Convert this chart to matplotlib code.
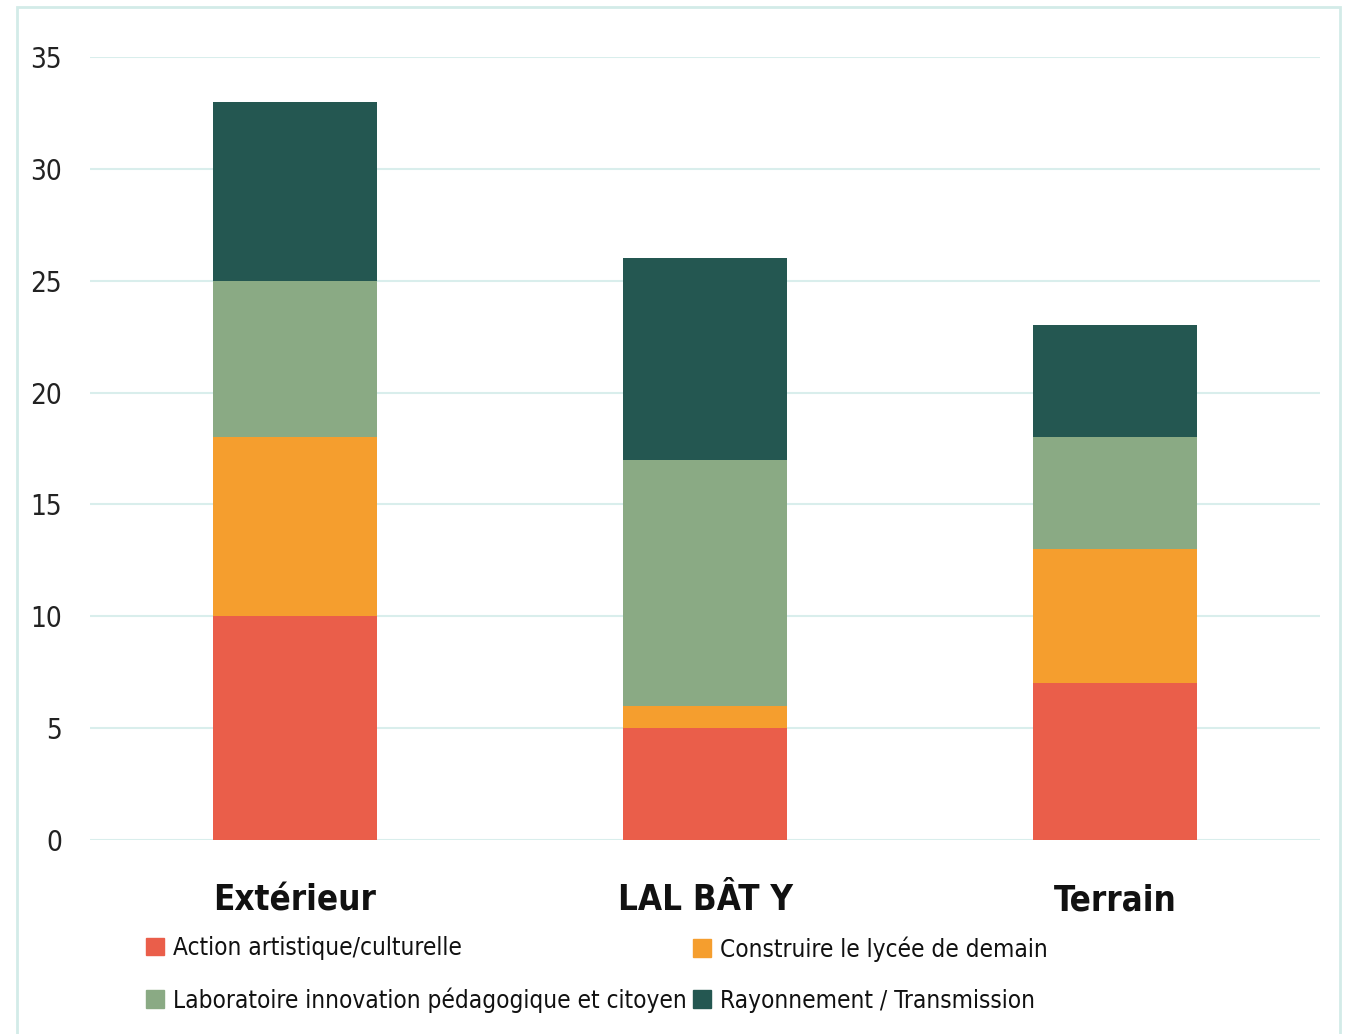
import os, glob
import matplotlib
matplotlib.use("Agg")
import matplotlib.pyplot as plt
from matplotlib.patches import Rectangle, Patch
from matplotlib import font_manager
from matplotlib.font_manager import FontProperties

categories = ["Extérieur", "LAL BÂT Y", "Terrain"]
series_names = ["Action artistique/culturelle", "Construire le lycée de demain",
                "Laboratoire innovation pédagogique et citoyen", "Rayonnement / Transmission"]
action = [10, 5, 7]
construire = [8, 1, 6]
laboratoire = [7, 11, 5]
rayonnement = [8, 9, 5]
yticks = [0, 5, 10, 15, 20, 25, 30, 35]

colors = ["#EA5E4A", "#F59E2E", "#8AAA84", "#245751"]

# locate a condensed font file if available
files = [f.fname for f in font_manager.fontManager.ttflist]
for d in ["/usr/share/fonts", "/usr/local/share/fonts", os.path.expanduser("~/.fonts")]:
    files += glob.glob(os.path.join(d, "**", "*.ttf"), recursive=True)
byname = {os.path.basename(p).lower(): p for p in files}

def pick(cands):
    for c in cands:
        if c in byname:
            return byname[c]
    return None

reg_file = pick(["liberationsansnarrow-regular.ttf", "dejavusanscondensed.ttf"])
bold_file = pick(["liberationsansnarrow-bold.ttf", "dejavusanscondensed-bold.ttf"])

def fp(size, bold=False):
    f = bold_file if bold else reg_file
    if f:
        return FontProperties(fname=f, size=size)
    return FontProperties(family="DejaVu Sans", size=size * 0.9,
                          weight="bold" if bold else "normal")

W, H = 1351, 1034
fig = plt.figure(figsize=(W / 100, H / 100), dpi=100)
fig.patches.append(Rectangle((17 / W, -0.05), (1340 - 17) / W, 1.05 - 7 / H,
                             transform=fig.transFigure, fill=False,
                             edgecolor="#d3ebe8", linewidth=2))

ax = fig.add_axes([90 / W, (H - 840) / H, (1320 - 90) / W, (840 - 57) / H])
x = list(range(len(categories)))
bottom = [0] * len(categories)
for vals, c, n in zip([action, construire, laboratoire, rayonnement], colors, series_names):
    ax.bar(x, vals, 0.4, bottom=bottom, color=c, label=n, zorder=3)
    bottom = [b + v for b, v in zip(bottom, vals)]

ax.set_xlim(-0.5, 2.5)
ax.set_ylim(0, 35)
ax.set_yticks(yticks)
ax.set_yticklabels([str(t) for t in yticks], fontproperties=fp(20), color="#222222")
ax.yaxis.grid(True, color="#d9eeec", linewidth=1.5, zorder=0)
ax.set_axisbelow(True)
ax.tick_params(axis='y', length=0, pad=20)
ax.tick_params(axis='x', length=0, pad=31)
ax.set_xticks(x)
ax.set_xticklabels(categories, fontproperties=fp(25, bold=True), color="#111111")
for s in ax.spines.values():
    s.set_visible(False)

handles = [Patch(color=colors[i], label=series_names[i]) for i in range(4)]
for cols, xpos in [([0, 2], 146), ([1, 3], 693)]:
    fig.legend(handles=[handles[i] for i in cols], loc='upper left',
               bbox_to_anchor=(xpos / W, (H - 936) / H),
               ncol=1, frameon=False, prop=fp(17.5), handlelength=0.75, handleheight=0.75,
               handletextpad=0.35, labelspacing=1.12, borderaxespad=0, borderpad=0,
               labelcolor="#111111")

fig.savefig("out.png", dpi=100, facecolor="white")
